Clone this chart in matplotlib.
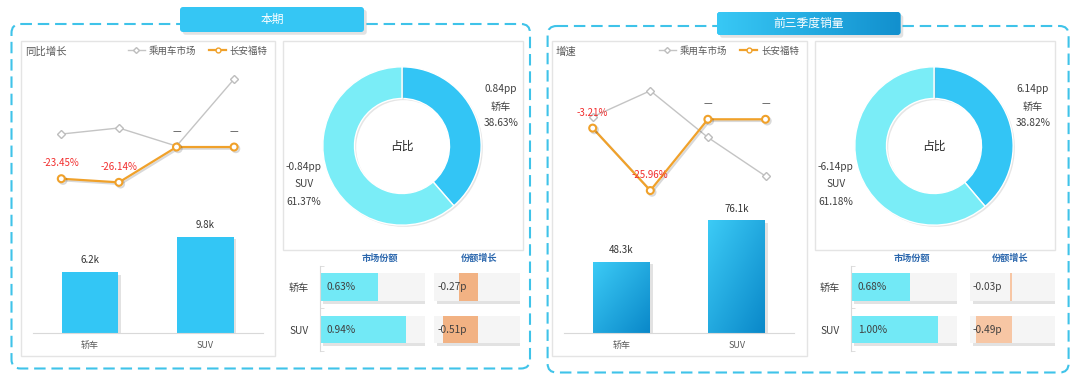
import matplotlib.pyplot as plt
import matplotlib.patheffects as pe
from matplotlib.patches import FancyBboxPatch
from matplotlib.lines import Line2D
from matplotlib.colors import LinearSegmentedColormap
import numpy as np

plt.rcParams['font.family'] = ['Noto Sans CJK SC', 'DejaVu Sans']

# ---- data ----
panel_titles = ['本期', '前三季度销量']
line_titles = ['同比增长', '增速']
series_names = ['乘用车市场', '长安福特']
market_growth = [[9.6, 14.1, 0.7, 50.3], [0.9, 10.4, -6.6, -20.7]]
ford_growth = [[-23.45, -26.14, 0, 0], [-3.21, -25.96, 0, 0]]
ford_labels = [['-23.45%', '-26.14%', '—', '—'], ['-3.21%', '-25.96%', '—', '—']]
categories = ['轿车', 'SUV']
sales_k = [[6.2, 9.8], [48.3, 76.1]]
mix_share = [[38.63, 61.37], [38.82, 61.18]]
mix_change = [[0.84, -0.84], [6.14, -6.14]]
share_cols = ['市场份额', '份额增长']
market_share = [[0.63, 0.94], [0.68, 1.00]]
share_change = [[-0.27, -0.51], [-0.03, -0.49]]

# ---- layout in pixels (x0, y0, x1, y1), y from top ----
layout = [
    dict(dash=(11.5, 24, 530, 368.5), tab=(180, 7, 364, 32), tab_grad=False,
         line_box=(21, 41, 275, 356), pie_box=(283, 41, 523, 250),
         title_x=25, legend_x=268, plot_x=(32.5, 262.9),
         line_ylim=(-39.2, 64.4), bar_ymax=13.5, bar_grad=False,
         pie_c=(402, 146), mkt=(320, 425), mkt_max=1.15,
         grw=(434, 520), grw_lim=(-0.64, 0.62), head_x=(380, 478.6),
         grw_color='#f2b283'),
    dict(dash=(547.6, 26, 1068.6, 372.5), tab=(717, 12, 900.5, 35), tab_grad=True,
         line_box=(552, 41, 807, 356), pie_box=(814.5, 41, 1055, 250),
         title_x=555.5, legend_x=799, plot_x=(563.9, 794.3),
         line_ylim=(-29.4, 21.6), bar_ymax=89.9, bar_grad=True,
         pie_c=(934, 146), mkt=(851, 956.7), mkt_max=1.22,
         grw=(969.8, 1054.8), grw_lim=(-0.58, 0.59), head_x=(912, 1010),
         grw_color='#f7c6a4'),
]

W, H = 1080, 380
fig = plt.figure(figsize=(W / 100, H / 100), dpi=100)
fig.patch.set_facecolor('white')
bg = fig.add_axes([0, 0, 1, 1])
bg.axis('off')

TXT = '#404040'
shadow = [pe.SimplePatchShadow(offset=(2, -2), shadow_rgbFace='#9a9a9a', alpha=0.28), pe.Normal()]


def px_axes(x0, y0, x1, y1):
    ax = fig.add_axes([x0 / W, 1 - y1 / H, (x1 - x0) / W, (y1 - y0) / H])
    ax.patch.set_alpha(0)
    return ax


def gradient_fill(ax, patch, c0, c1, diagonal=True):
    x0, y0 = patch.get_x(), patch.get_y()
    w, h = patch.get_width(), patch.get_height()
    g = np.linspace(0, 1, 64)
    if diagonal:
        grad = (g[None, :] + (1 - g)[:, None]) / 2
    else:
        grad = np.tile(g, (64, 1))
    cmap = LinearSegmentedColormap.from_list('g', [c0, c1])
    im = ax.imshow(grad, cmap=cmap, extent=(x0, x0 + w, y0, y0 + h),
                   origin='lower', aspect='auto', zorder=patch.get_zorder() + 0.1)
    im.set_clip_path(patch)


for p, L in enumerate(layout):
    # dashed outer frame
    x0, y0, x1, y1 = L['dash']
    bg.add_patch(FancyBboxPatch((x0, y0), x1 - x0, y1 - y0,
                                boxstyle='round,pad=0,rounding_size=9',
                                fill=False, ec='#3fc3e9', lw=1.5,
                                ls=(0, (5.5, 2.8)), zorder=1))
    # inner white boxes
    for key in ('line_box', 'pie_box'):
        bx0, by0, bx1, by1 = L[key]
        bg.add_patch(FancyBboxPatch((bx0, by0), bx1 - bx0, by1 - by0,
                                    boxstyle='square,pad=0', fc='white',
                                    ec='#e4e4e4', lw=1, zorder=2))
    # title tab
    tx0, ty0, tx1, ty1 = L['tab']
    tab = FancyBboxPatch((tx0, ty0), tx1 - tx0, ty1 - ty0,
                         boxstyle='round,pad=0,rounding_size=3',
                         fc='#35c6f4', ec='none', zorder=3)
    tab.set_path_effects(shadow)
    bg.add_patch(tab)
    if L['tab_grad']:
        gradient_fill(bg, tab, '#38c8f5', '#1290ce', diagonal=False)
    bg.text((tx0 + tx1) / 2, (ty0 + ty1) / 2, panel_titles[p], ha='center',
            va='center', color='white', fontsize=8.5, zorder=5)

    # ---- line chart ----
    px0, px1 = L['plot_x']
    ax = px_axes(px0, 60, px1, 200)
    xs = np.arange(4)
    ax.plot(xs, market_growth[p], color='#c4c4c4', lw=1, marker='D', ms=4,
            mfc='white', mec='#bdbdbd', mew=1, zorder=2)
    ax.plot(xs, ford_growth[p], color='#f0a12a', lw=1.6, marker='o', ms=5,
            mfc='white', mec='#f0a12a', mew=1.5, zorder=3,
            path_effects=[pe.SimpleLineShadow(offset=(1.2, -1.2), alpha=0.15), pe.Normal()])
    for xi, v, lab in zip(xs, ford_growth[p], ford_labels[p]):
        ax.annotate(lab, (xi, v), xytext=(0, 11), textcoords='offset points',
                    ha='center', va='center', fontsize=7,
                    color='#555555' if lab == '—' else '#f22c2c', zorder=4)
    ax.set_xlim(-0.5, 3.5)
    ax.set_ylim(*L['line_ylim'])
    ax.axis('off')
    bg.text(L['title_x'], 52, line_titles[p], ha='left', va='center',
            fontsize=7.5, color='#595959', zorder=5)
    handles = [Line2D([], [], color='#c4c4c4', lw=1, marker='D', ms=3,
                      mfc='white', mec='#bdbdbd'),
               Line2D([], [], color='#f0a12a', lw=1.6, marker='o', ms=3.5,
                      mfc='white', mec='#f0a12a')]
    ax.legend(handles, series_names, loc='center right',
              bbox_to_anchor=(L['legend_x'] / W, 1 - 50.7 / H),
              bbox_transform=fig.transFigure, ncol=2, frameon=False,
              fontsize=6.8, handlelength=1.8, handletextpad=0.4,
              columnspacing=1.4, borderpad=0, borderaxespad=0,
              labelcolor='#595959')

    # ---- bar chart ----
    bx = px_axes(px0, 200, px1, 333.3)
    bars = bx.bar([0.5, 2.5], sales_k[p], width=0.98, color='#33c6f5', zorder=2)
    for b in bars:
        b.set_path_effects(shadow)
        if L['bar_grad']:
            gradient_fill(bx, b, '#3ccbf6', '#0a88c9')
    for b, v in zip(bars, sales_k[p]):
        bx.annotate(f'{v:.1f}k', (b.get_x() + b.get_width() / 2, v),
                    xytext=(0, 8.6), textcoords='offset points', ha='center',
                    va='center', fontsize=7, color='#333333')
    bx.set_xlim(-0.5, 3.5)
    bx.set_ylim(0, L['bar_ymax'])
    bx.set_xticks([0.5, 2.5], categories)
    bx.tick_params(axis='x', length=0, pad=5.5, labelsize=6.5, labelcolor='#595959')
    bx.set_yticks([])
    for s in ('top', 'left', 'right'):
        bx.spines[s].set_visible(False)
    bx.spines['bottom'].set_color('#d9d9d9')

    # ---- donut ----
    cx, cy = L['pie_c']
    dx = px_axes(cx - 95, cy - 95, cx + 95, cy + 95)
    wedges, _ = dx.pie(mix_share[p], startangle=90, counterclock=False,
                       colors=['#33c5f5', '#7aedf7'], radius=1,
                       wedgeprops=dict(width=0.4, edgecolor='white', linewidth=1))
    for w in wedges:
        w.set_path_effects([pe.SimplePatchShadow(offset=(1.2, -1.2), shadow_rgbFace='#999999', alpha=0.25), pe.Normal()])
    dx.set_xlim(-1.2, 1.2)
    dx.set_ylim(-1.2, 1.2)
    dx.text(0, 0, '占比', ha='center', va='center', fontsize=8.5, color='#262626')
    label_pos = [(1.25, [0.72, 0.49, 0.29]), (-1.24, [-0.27, -0.48, -0.71])]
    for (lx, lys), cat, chg, shr in zip(label_pos, categories, mix_change[p], mix_share[p]):
        for ly, t in zip(lys, [f'{chg:.2f}pp', cat, f'{shr:.2f}%']):
            dx.text(lx, ly, t, ha='center', va='center', fontsize=7.3, color=TXT)

    # ---- share table ----
    for hx, h in zip(L['head_x'], share_cols):
        bg.text(hx, 258, h, ha='center', va='center', fontsize=6.6,
                fontweight='bold', color='#2b67ad', zorder=5)
    mx0, mx1 = L['mkt']
    mx = px_axes(mx0, 265.6, mx1, 350.8)
    mmax = L['mkt_max']
    back = mx.barh([0, 1], [mmax, mmax], height=0.65, color='#f5f5f5', zorder=1)
    for b in back:
        b.set_path_effects(shadow)
    mx.barh([0, 1], market_share[p], height=0.65, color='#72e9f6', zorder=2)
    for i, v in enumerate(market_share[p]):
        mx.annotate(f'{v:.2f}%', (0, i), xytext=(4.8, 0), textcoords='offset points',
                    ha='left', va='center', fontsize=7.3, color=TXT, zorder=3)
    mx.set_xlim(0, mmax)
    mx.set_ylim(1.5, -0.5)
    mx.set_xticks([])
    mx.set_yticks([0, 1], categories)
    mx.set_yticks([-0.5, 0.5, 1.5], minor=True)
    mx.tick_params(axis='y', which='major', length=0, pad=8, labelsize=7.3, labelcolor=TXT)
    mx.tick_params(axis='y', which='minor', direction='in', length=3, color='#d9d9d9')
    for s in ('top', 'bottom', 'right'):
        mx.spines[s].set_visible(False)
    mx.spines['left'].set_color('#d9d9d9')

    gx0, gx1 = L['grw']
    gx = px_axes(gx0, 265.6, gx1, 350.8)
    lo, hi = L['grw_lim']
    back = gx.barh([0, 1], [hi - lo, hi - lo], left=lo, height=0.65, color='#f5f5f5', zorder=1)
    for b in back:
        b.set_path_effects(shadow)
    gx.barh([0, 1], share_change[p], height=0.65, color=L['grw_color'], zorder=2)
    for i, v in enumerate(share_change[p]):
        gx.annotate(f'{v:.2f}p', (lo, i), xytext=(2.2, 0), textcoords='offset points',
                    ha='left', va='center', fontsize=7.3, color=TXT, zorder=3)
    gx.set_xlim(lo, hi)
    gx.set_ylim(1.5, -0.5)
    gx.axis('off')

bg.set_xlim(0, W)
bg.set_ylim(H, 0)

fig.savefig('out.png', dpi=100)
